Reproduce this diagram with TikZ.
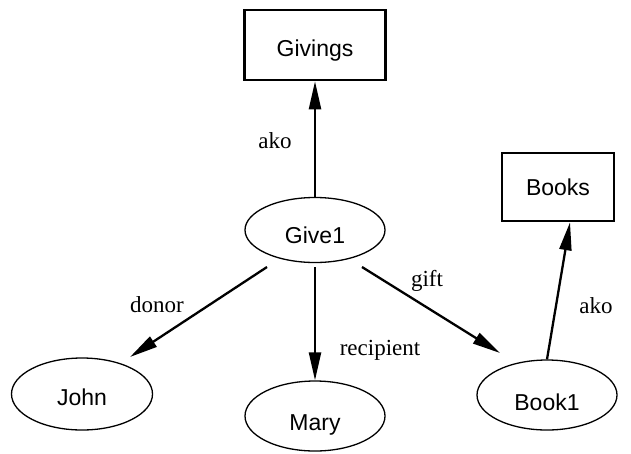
\documentclass[tikz,border=0pt]{standalone}
\usepackage{fontspec}
\setmainfont{Liberation Serif}
\newfontfamily\nodefont{Liberation Sans}
\usetikzlibrary{shapes.geometric,arrows.meta,calc}

\tikzset{
  concept/.style={draw, line width=2.6pt, rectangle, inner sep=0pt,
    font=\nodefont\fontsize{23}{27}\selectfont},
  instance/.style={draw, line width=1.3pt, ellipse, inner sep=0pt,
    minimum width=140pt, minimum height=68pt,
    font=\nodefont\fontsize{23}{27}\selectfont},
  slot/.style={line width=2.3pt, -{Triangle[length=28pt,width=12pt]}},
  slotlabel/.style={font=\fontsize{23}{27}\selectfont, inner sep=0pt}
}

\begin{document}
\begin{tikzpicture}[x=1pt,y=-1pt]
  \useasboundingbox (0,0) rectangle (631,453);

  % frames
  \node[concept, minimum width=141pt, minimum height=70pt,
        text height=22.5pt, text depth=0pt] (givings) at (315,45) {Givings\hspace{8pt}};
  \node[concept, minimum width=112pt, minimum height=68pt] (books) at (558,187) {Books};

  % instances
  \node[instance, minimum height=65pt, text height=26.5pt, text depth=0pt]
        (give) at (315,230) {Give1\hspace{28pt}};
  \node[instance, minimum width=141pt, minimum height=72pt, text height=22.5pt, text depth=0pt]
        (john) at (82,394) {John\hspace{38pt}};
  \node[instance, minimum height=70pt, text height=28.5pt, text depth=0pt]
        (mary) at (315,416) {Mary};
  \node[instance, minimum height=70pt, text height=30.5pt, text depth=0pt]
        (book1) at (547,395) {Book1\hspace{20pt}};

  % slots
  \draw[slot] (give.north) -- (givings.south);
  \draw[slot] ($(give)+(-48,37)$) -- ($(john)+(48,-37)$);
  \draw[slot, shorten <=4pt] (give.south) -- (mary.north);
  \draw[slot] ($(give)+(47,37)$) -- ($(book1)+(-47,-42)$);
  \draw[slot] (book1.north) -- ($(books.south)+(12,0)$);

  % slot names
  \node[slotlabel] (l-ako1) at (275,141) {ako};
  \node[slotlabel] (l-donor) at (157,305) {donor};
  \node[slotlabel] (l-recipient) at (380,350) {recipient};
  \node[slotlabel] (l-gift) at (427,281) {gift};
  \node[slotlabel] (l-ako2) at (596,306) {ako};
\end{tikzpicture}
\end{document}
